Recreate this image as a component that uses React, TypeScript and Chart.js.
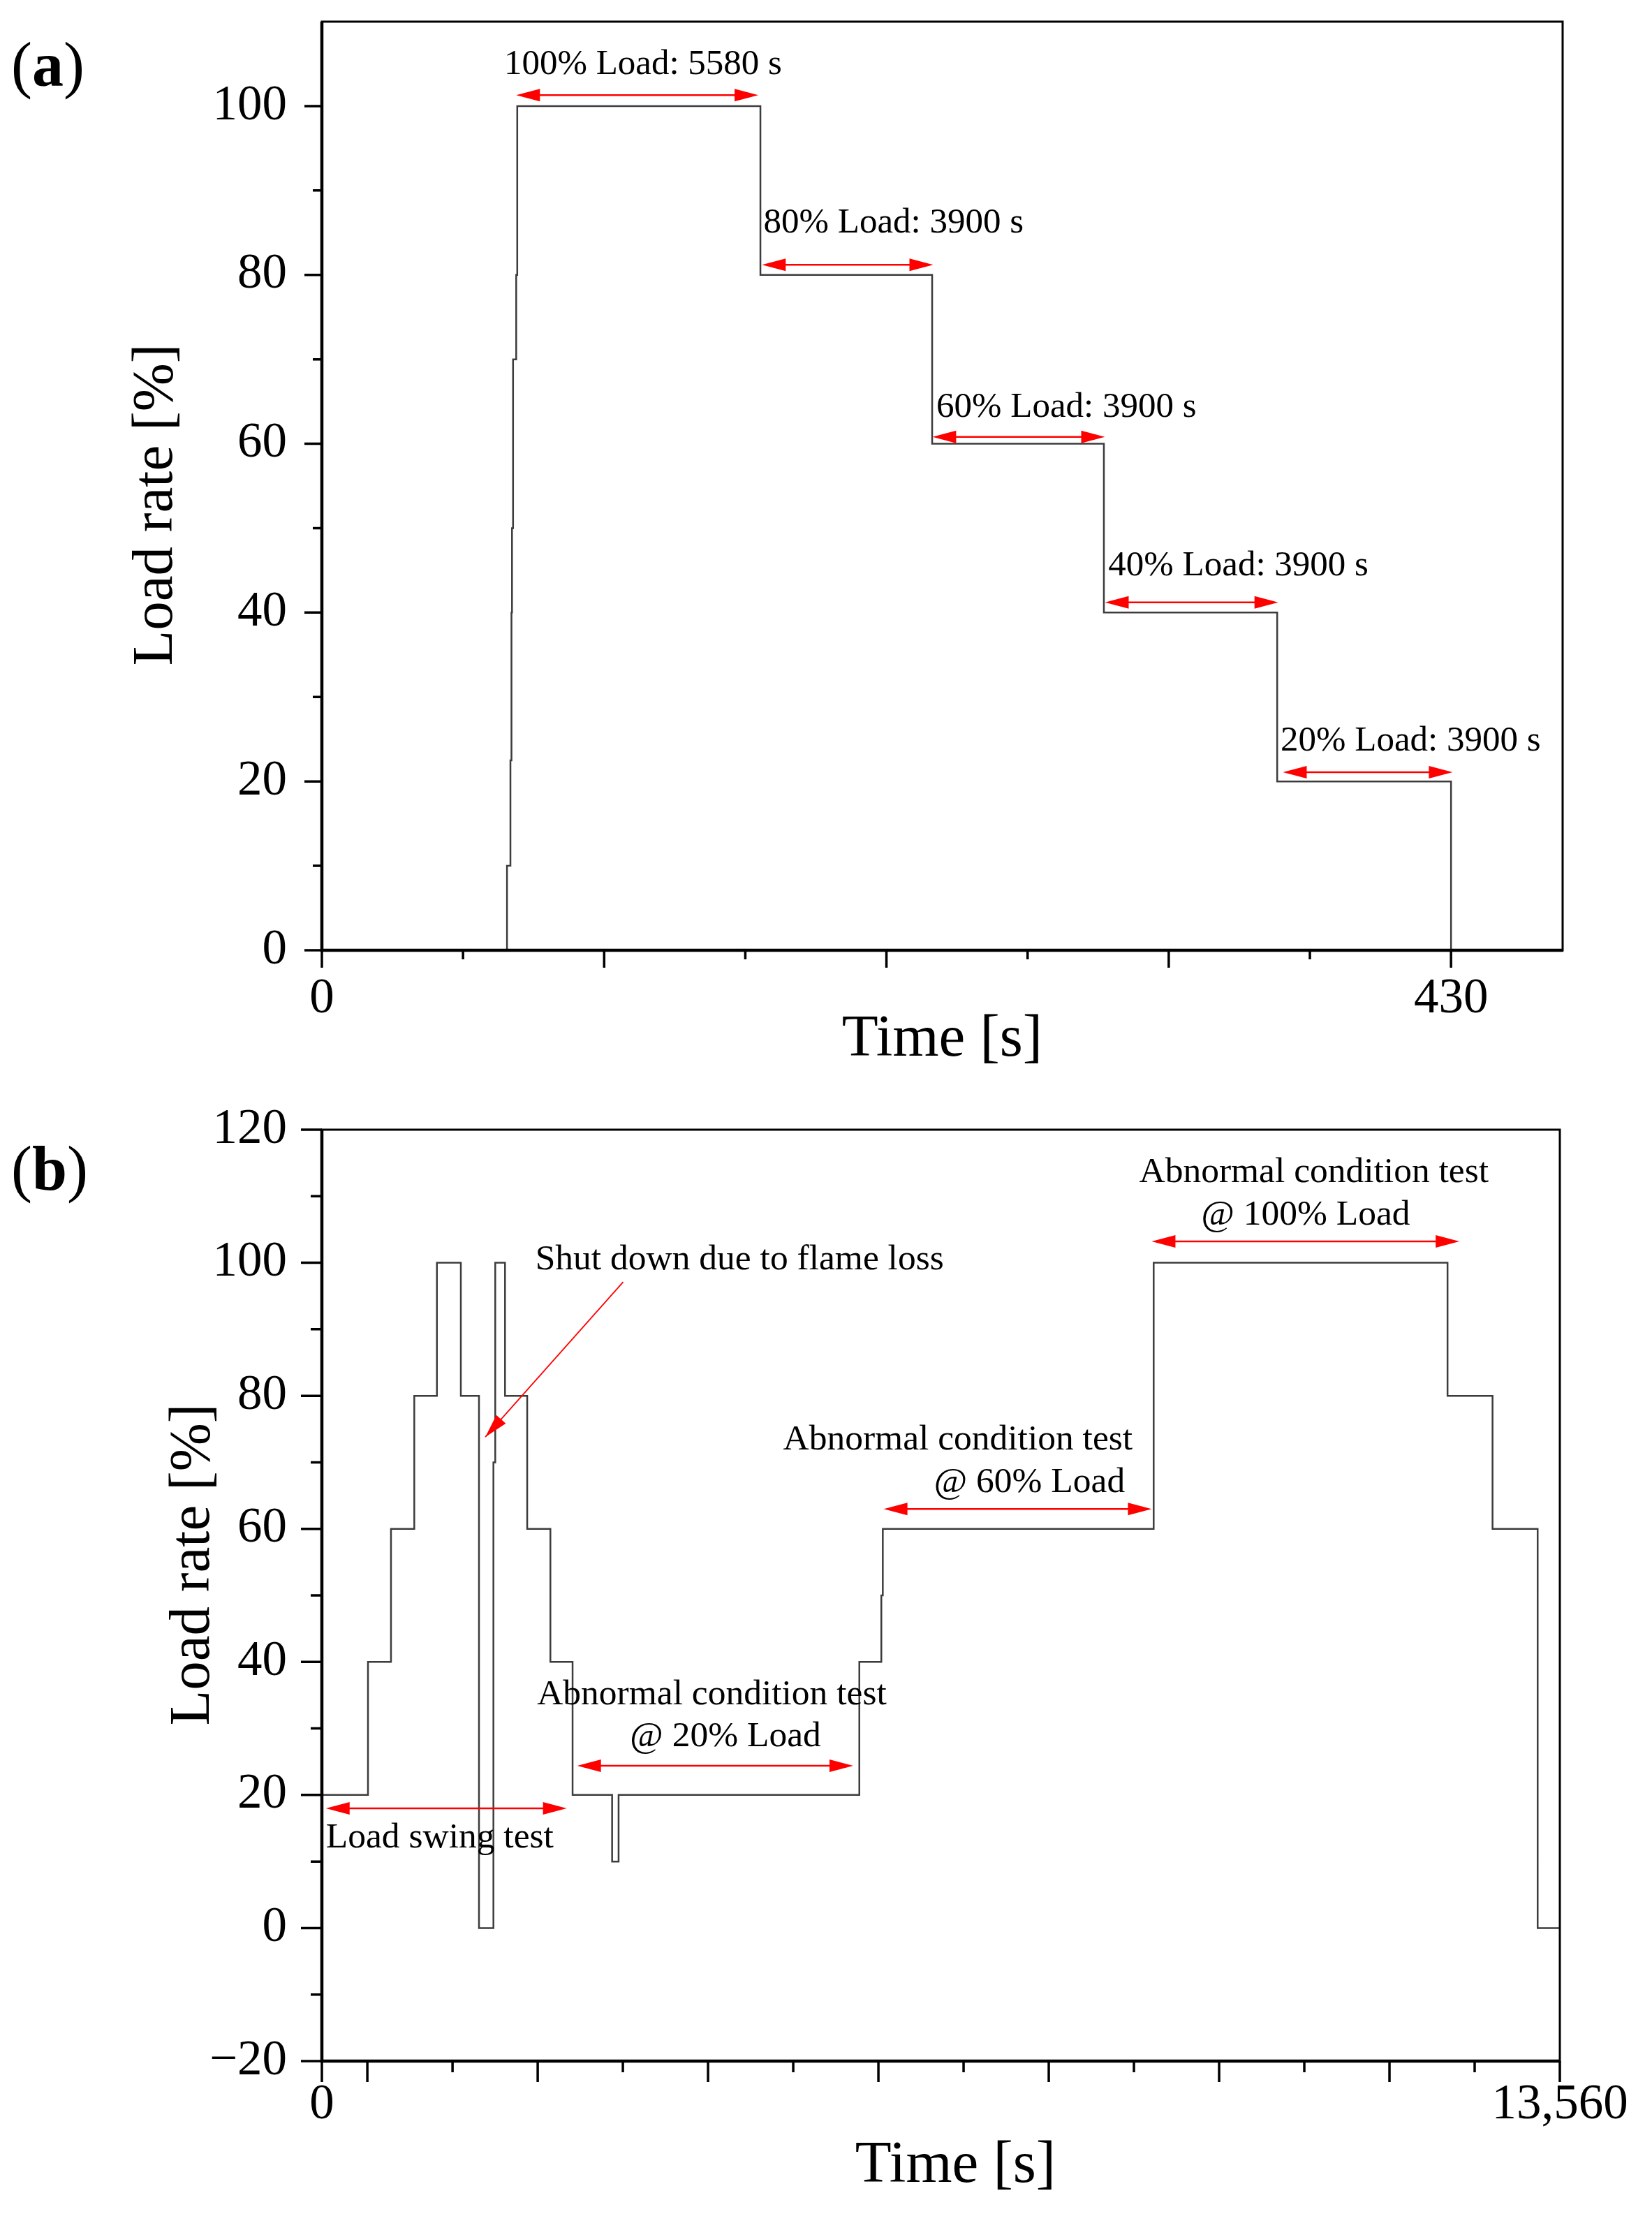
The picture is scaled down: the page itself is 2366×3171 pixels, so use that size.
import { useEffect, useRef } from 'react';
import { Chart, registerables } from 'chart.js';

Chart.register(...registerables);

const SERIF = '"Liberation Serif", "Times New Roman", Times, serif';

// ---- (a) stepped load test ----
const timeA = [0, 70.5, 71.8, 72.2, 72.4, 72.8, 74.0, 74.4, 167, 232.4, 297.8, 363.8, 430];
const loadA = [0, 10, 22.5, 40, 50, 70, 80, 100, 80, 60, 40, 20, 0];
const xMajorA = [0, 107.5, 215, 322.5, 430];
const xMinorA = [53.75, 161.25, 268.75, 376.25];
const xLabelA = [0, 430];
const yMajorA = [0, 20, 40, 60, 80, 100];
const yMinorA = [10, 30, 50, 70, 90];
const spanFromA = [74, 167.6, 232.5, 298.2, 366];
const spanToA = [166.2, 232.8, 298.2, 364.2, 430.6];
const spanLevelA = [101.3, 81.2, 60.8, 41.2, 21.1];
const noteTextA = ['100% Load: 5580 s', '80% Load: 3900 s', '60% Load: 3900 s', '40% Load: 3900 s', '20% Load: 3900 s'];
const noteXA = [122.3, 168.2, 234, 299.5, 365.1];
const noteYA = [104.9, 86.1, 64.3, 45.5, 24.8];
const noteAlignA = ['center', 'left', 'left', 'left', 'left'];

// ---- (b) load swing + abnormal condition tests ----
const timeB = [0, 505, 757, 1012, 1260, 1522, 1721, 1879, 1899, 2006, 2249, 2503, 2746, 3179, 3250, 5887, 6128, 6144, 9111, 12330, 12823, 13317, 13560];
const loadB = [20, 40, 60, 80, 100, 80, 0, 70, 100, 80, 60, 40, 20, 10, 20, 40, 50, 60, 100, 80, 60, 0, 0];
const xMajorB = [0, 498, 2364, 4230, 6096, 7962, 9828, 11694, 13560];
const xMinorB = [1431, 3297, 5163, 7029, 8895, 10761, 12627];
const xLabelB = [0, 13560];
const yMajorB = [-20, 0, 20, 40, 60, 80, 100, 120];
const yMinorB = [-10, 10, 30, 50, 70, 90, 110];
const spanFromB = [44, 2797, 6154, 9089];
const spanToB = [2682, 5820, 9089, 12460];
const spanLevelB = [18, 24.4, 63, 103.2];
const noteTextB = [
    'Load swing test',
    'Abnormal condition test', '@ 20% Load',
    'Abnormal condition test', '@ 60% Load',
    'Abnormal condition test', '@ 100% Load',
    'Shut down due to flame loss',
];
const noteXB = [44, 4271, 4421, 6966, 7751, 10866, 10776, 2338];
const noteYB = [13.5, 35, 28.7, 73.4, 66.9, 113.6, 107.1, 100.4];
const noteAlignB = ['left', 'center', 'center', 'center', 'center', 'center', 'center', 'left'];
const pointerFromB = [3300, 97.1];
const pointerToB = [1790, 73.8];

const fmt = (v: number) => (v < 0 ? '\u2212' + Math.abs(v) : v.toLocaleString('en-US'));

const panelA = {
    top: 0, height: 1570, padTop: 31, padRight: 128, yWidth: 461, xHeight: 209,
    xMax: 472.5, yMin: 0, yMax: 110, xLabelPad: 28, yLabelPad: 50,
    major: 25, minor: 13, noteSize: 51,
    xTitle: { dx: 0, dy: 129 }, yTitle: { x: 224, dy: 27 },
    time: timeA, load: loadA,
    xMajor: xMajorA, xMinor: xMinorA, xLabels: xLabelA,
    yMajor: yMajorA, yMinor: yMinorA,
    spanFrom: spanFromA, spanTo: spanToA, spanLevel: spanLevelA,
    notes: noteTextA, noteX: noteXA, noteY: noteYA, noteAlign: noteAlignA,
    pointer: null as null | { from: number[]; to: number[] },
};

const panelB = {
    top: 1570, height: 1601, padTop: 48, padRight: 132, yWidth: 461, xHeight: 219,
    xMax: 13560, yMin: -20, yMax: 120, xLabelPad: 21, yLabelPad: 50,
    major: 30, minor: 16, noteSize: 51.5,
    xTitle: { dx: 21, dy: 151 }, yTitle: { x: 277, dy: -44 },
    time: timeB, load: loadB,
    xMajor: xMajorB, xMinor: xMinorB, xLabels: xLabelB,
    yMajor: yMajorB, yMinor: yMinorB,
    spanFrom: spanFromB, spanTo: spanToB, spanLevel: spanLevelB,
    notes: noteTextB, noteX: noteXB, noteY: noteYB, noteAlign: noteAlignB,
    pointer: { from: pointerFromB, to: pointerToB },
};

type Panel = typeof panelA;

function head(ctx: CanvasRenderingContext2D, tx: number, ty: number, ang: number) {
    const len = 34, half = 9;
    ctx.beginPath();
    ctx.moveTo(tx, ty);
    ctx.lineTo(tx - len * Math.cos(ang) - half * Math.sin(ang), ty - len * Math.sin(ang) + half * Math.cos(ang));
    ctx.lineTo(tx - len * Math.cos(ang) + half * Math.sin(ang), ty - len * Math.sin(ang) - half * Math.cos(ang));
    ctx.closePath();
    ctx.fill();
}

// frame, ticks, red arrows, notes and axis titles
function makeDecor(p: Panel) {
    return {
        id: 'decor',
        afterDraw(chart: any) {
            const { ctx, chartArea: a } = chart;
            const xs = chart.scales.x, ys = chart.scales.y;
            ctx.save();

            // tick marks, outward
            ctx.strokeStyle = '#000';
            ctx.lineWidth = 3.5;
            ctx.beginPath();
            const xt = (vals: number[], len: number) => vals.forEach(v => {
                const px = xs.getPixelForValue(v);
                ctx.moveTo(px, a.bottom);
                ctx.lineTo(px, a.bottom + len);
            });
            const yt = (vals: number[], len: number) => vals.forEach(v => {
                const py = ys.getPixelForValue(v);
                ctx.moveTo(a.left, py);
                ctx.lineTo(a.left - len, py);
            });
            xt(p.xMajor, p.major);
            xt(p.xMinor, p.minor);
            yt(p.yMajor, p.major);
            yt(p.yMinor, p.minor);
            ctx.stroke();

            // frame
            ctx.lineWidth = 3;
            ctx.strokeRect(a.left, a.top, a.right - a.left, a.bottom - a.top);
            ctx.lineWidth = 4.5;
            ctx.beginPath();
            ctx.moveTo(a.left, a.top);
            ctx.lineTo(a.left, a.bottom);
            ctx.lineTo(a.right + 1, a.bottom);
            ctx.stroke();

            // double arrows
            ctx.strokeStyle = '#ff0000';
            ctx.fillStyle = '#ff0000';
            ctx.lineWidth = 2.5;
            p.spanLevel.forEach((lv, i) => {
                const x0 = xs.getPixelForValue(p.spanFrom[i]);
                const x1 = xs.getPixelForValue(p.spanTo[i]);
                const py = ys.getPixelForValue(lv);
                ctx.beginPath();
                ctx.moveTo(x0 + 10, py);
                ctx.lineTo(x1 - 10, py);
                ctx.stroke();
                head(ctx, x0, py, Math.PI);
                head(ctx, x1, py, 0);
            });

            // pointer arrow
            if (p.pointer) {
                const fx = xs.getPixelForValue(p.pointer.from[0]);
                const fy = ys.getPixelForValue(p.pointer.from[1]);
                const tx = xs.getPixelForValue(p.pointer.to[0]);
                const ty = ys.getPixelForValue(p.pointer.to[1]);
                ctx.lineWidth = 1.8;
                ctx.beginPath();
                ctx.moveTo(fx, fy);
                ctx.lineTo(tx, ty);
                ctx.stroke();
                head(ctx, tx, ty, Math.atan2(ty - fy, tx - fx));
            }

            // notes
            ctx.fillStyle = '#000';
            ctx.font = `${p.noteSize}px ${SERIF}`;
            ctx.textBaseline = 'middle';
            p.notes.forEach((t, i) => {
                ctx.textAlign = p.noteAlign[i] as CanvasTextAlign;
                ctx.fillText(t, xs.getPixelForValue(p.noteX[i]), ys.getPixelForValue(p.noteY[i]));
            });

            // axis titles
            ctx.textAlign = 'center';
            ctx.font = `85px ${SERIF}`;
            ctx.fillText('Time [s]', (a.left + a.right) / 2 + p.xTitle.dx, a.bottom + p.xTitle.dy);
            ctx.font = `83px ${SERIF}`;
            ctx.translate(p.yTitle.x, (a.top + a.bottom) / 2 + p.yTitle.dy);
            ctx.rotate(-Math.PI / 2);
            ctx.fillText('Load rate [%]', 0, 0);

            ctx.restore();
        },
    };
}

function LoadChart({ panel }: { panel: Panel }) {
    const canvasRef = useRef<HTMLCanvasElement>(null);

    useEffect(() => {
        if (!canvasRef.current) return;
        const tickFont = { family: SERIF, size: 71 };
        const chart = new Chart(canvasRef.current, {
            type: 'line',
            data: {
                datasets: [{
                    data: panel.time.map((t, i) => ({ x: t, y: panel.load[i] })),
                    stepped: true,
                    borderColor: '#3c3c3c',
                    borderWidth: 2.5,
                    pointRadius: 0,
                    fill: false,
                }],
            },
            options: {
                animation: false,
                responsive: true,
                maintainAspectRatio: false,
                events: [],
                layout: { padding: { top: panel.padTop, right: panel.padRight, left: 0, bottom: 0 } },
                plugins: { legend: { display: false }, tooltip: { enabled: false } },
                scales: {
                    x: {
                        type: 'linear',
                        min: 0,
                        max: panel.xMax,
                        afterBuildTicks: (s: any) => { s.ticks = panel.xLabels.map(v => ({ value: v })); },
                        afterFit: (s: any) => { s.height = panel.xHeight; s.paddingLeft = 0; s.paddingRight = 0; },
                        ticks: {
                            autoSkip: false, maxRotation: 0, color: '#000', font: tickFont,
                            padding: panel.xLabelPad, callback: (v: any) => fmt(Number(v)),
                        },
                        grid: { display: false, drawTicks: false },
                        border: { display: false },
                    },
                    y: {
                        type: 'linear',
                        min: panel.yMin,
                        max: panel.yMax,
                        afterBuildTicks: (s: any) => { s.ticks = panel.yMajor.map(v => ({ value: v })); },
                        afterFit: (s: any) => { s.width = panel.yWidth; s.paddingTop = 0; s.paddingBottom = 0; },
                        ticks: {
                            autoSkip: false, color: '#000', font: tickFont,
                            padding: panel.yLabelPad, callback: (v: any) => fmt(Number(v)),
                        },
                        grid: { display: false, drawTicks: false },
                        border: { display: false },
                    },
                },
            },
            plugins: [makeDecor(panel)],
        });
        return () => chart.destroy();
    }, [panel]);

    return (
        <div style={{ position: 'absolute', left: 0, top: panel.top, width: 2366, height: panel.height }}>
            <canvas ref={canvasRef}></canvas>
        </div>
    );
}

const tagStyle = (top: number) => ({
    position: 'absolute' as const, left: 16, top, fontFamily: SERIF, fontSize: 90, lineHeight: '90px', color: '#000',
});

export default function App() {
    return (
        <div style={{ position: 'absolute', left: 0, top: 0, width: 2366, height: 3171, background: '#fff', overflow: 'hidden' }}>
            <LoadChart panel={panelA} />
            <LoadChart panel={panelB} />
            <div style={tagStyle(48)}>(<b>a</b>)</div>
            <div style={tagStyle(1629)}>(<b>b</b>)</div>
        </div>
    );
}
